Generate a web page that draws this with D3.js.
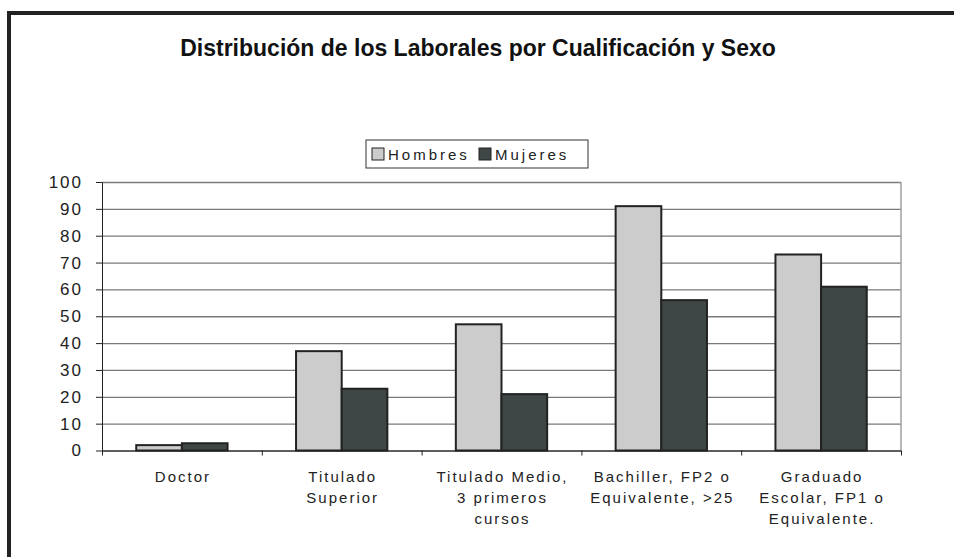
<!DOCTYPE html>
<html>
<head>
<meta charset="utf-8">
<script src="https://cdn.jsdelivr.net/npm/d3@7"></script>
<style>
  html, body { margin: 0; padding: 0; background: #fff; }
  svg { display: block; font-family: "Liberation Sans", Arial, sans-serif; }
</style>
</head>
<body>
<svg id="chart" width="954" height="557"></svg>
<script>
// Workers by qualification level, split by sex
const categories = [
  ["Doctor"],
  ["Titulado", "Superior"],
  ["Titulado Medio,", "3 primeros", "cursos"],
  ["Bachiller, FP2 o", "Equivalente, >25"],
  ["Graduado", "Escolar, FP1 o", "Equivalente."]
];
const seriesNames = ["Hombres", "Mujeres"];
const hombres = [2, 37, 47, 91, 73];
const mujeres = [2.7, 23, 21, 56, 61];
const yTicks = [0, 10, 20, 30, 40, 50, 60, 70, 80, 90, 100];
const titleText = "Distribución de los Laborales por Cualificación y Sexo";

const colors = { Hombres: "#cccccc", Mujeres: "#3e4745" };

const svg = d3.select("#chart");

// outer frame (runs past the right and bottom edges)
svg.append("rect")
  .attr("x", 9).attr("y", 13)
  .attr("width", 1000).attr("height", 600)
  .attr("fill", "none")
  .attr("stroke", "#222")
  .attr("stroke-width", 4);

// title
svg.append("text")
  .attr("x", 478).attr("y", 56)
  .attr("text-anchor", "middle")
  .attr("font-size", 23)
  .attr("font-weight", "bold")
  .attr("fill", "#111")
  .text(titleText);

const plot = { left: 102, right: 901, top: 182, bottom: 450.5 };

const x = d3.scaleBand()
  .domain(d3.range(categories.length))
  .range([plot.left, plot.right])
  .padding(0);

// two bars per group with a 150% gap: each bar is 1/3.5 of the band
const barW = x.bandwidth() / 3.5;
const xs = d3.scaleBand()
  .domain(seriesNames)
  .range([x.bandwidth() / 2 - barW, x.bandwidth() / 2 + barW])
  .padding(0);

const y = d3.scaleLinear().domain([0, 100]).range([plot.bottom, plot.top]);

// gridlines
const grid = svg.append("g")
  .attr("transform", `translate(${plot.left},0)`)
  .call(d3.axisLeft(y).tickValues(yTicks).tickSize(-(plot.right - plot.left)).tickFormat(""));
grid.select(".domain").remove();
grid.selectAll("line").attr("stroke", "#7a7a7a").attr("stroke-width", 1.3);

// right edge of plot area
svg.append("line")
  .attr("x1", plot.right).attr("x2", plot.right)
  .attr("y1", plot.top).attr("y2", plot.bottom)
  .attr("stroke", "#a0a0a0").attr("stroke-width", 1.5);

// bars
const rows = categories.map((c, i) => ({ i, values: [hombres[i], mujeres[i]] }));
const groups = svg.append("g").selectAll("g")
  .data(rows).join("g")
  .attr("transform", d => `translate(${x(d.i)},0)`);
groups.selectAll("rect")
  .data(d => seriesNames.map((s, k) => ({ s, v: d.values[k] })))
  .join("rect")
  .attr("x", d => xs(d.s))
  .attr("width", xs.bandwidth())
  .attr("y", d => y(d.v))
  .attr("height", d => y(0) - y(d.v))
  .attr("fill", d => colors[d.s])
  .attr("stroke", "#222")
  .attr("stroke-width", 2);

// y axis
const yAxis = svg.append("g")
  .attr("transform", `translate(${plot.left},0)`)
  .call(d3.axisLeft(y).tickValues(yTicks).tickSize(6).tickSizeOuter(0).tickPadding(13));
yAxis.select(".domain").attr("stroke", "#222");
yAxis.selectAll(".tick line").attr("stroke", "#222");
yAxis.selectAll("text")
  .attr("font-size", 17)
  .attr("letter-spacing", 2)
  .attr("fill", "#222")
  .attr("font-family", "Liberation Sans, Arial, sans-serif");

// x axis with ticks between categories
const xb = d3.scaleLinear().domain([0, categories.length]).range([plot.left, plot.right]);
const xAxis = svg.append("g")
  .attr("transform", `translate(0,${plot.bottom})`)
  .call(d3.axisBottom(xb).tickValues(d3.range(categories.length + 1)).tickSize(5).tickSizeOuter(0).tickFormat(""));
xAxis.select(".domain").attr("stroke", "#222");
xAxis.selectAll(".tick line").attr("stroke", "#222");

// category labels
const labels = svg.append("g").selectAll("text")
  .data(categories).join("text")
  .attr("text-anchor", "middle")
  .attr("font-size", 15)
  .attr("letter-spacing", 2)
  .attr("fill", "#222")
  .attr("transform", (d, i) => `translate(${x(i) + x.bandwidth() / 2 + 1},482)`);
labels.selectAll("tspan")
  .data(d => d).join("tspan")
  .attr("x", 0)
  .attr("dy", (d, k) => k === 0 ? 0 : 21)
  .text(d => d);

// legend
const legend = svg.append("g").attr("transform", "translate(366,140)");
legend.append("rect")
  .attr("width", 222).attr("height", 28)
  .attr("fill", "#fff")
  .attr("stroke", "#333").attr("stroke-width", 1);
const items = [
  { s: "Hombres", x: 6 },
  { s: "Mujeres", x: 113 }
];
const li = legend.selectAll("g.item").data(items).join("g")
  .attr("class", "item")
  .attr("transform", d => `translate(${d.x},8)`);
li.append("rect")
  .attr("width", 12).attr("height", 12)
  .attr("fill", d => colors[d.s])
  .attr("stroke", "#222").attr("stroke-width", 1);
li.append("text")
  .attr("x", 16).attr("y", 12)
  .attr("font-size", 15)
  .attr("letter-spacing", 3)
  .attr("fill", "#222")
  .text(d => d.s);
</script>
</body>
</html>
